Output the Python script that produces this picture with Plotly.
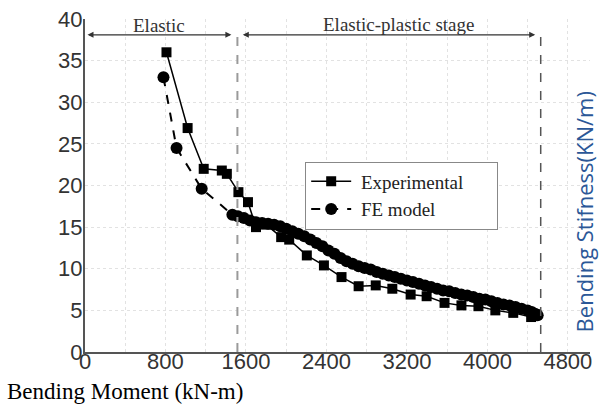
import plotly.graph_objects as go

# ---- data ----
exp_x = [810, 1020, 1180, 1360, 1410, 1525, 1620, 1700, 1800, 1950, 2030, 2205, 2375,
         2550, 2720, 2890, 3055, 3237, 3396, 3574, 3742, 3911, 4079, 4257, 4435]
exp_y = [36.0, 26.9, 22.0, 21.8, 21.4, 19.2, 18.0, 15.0, 15.3, 13.8, 13.5, 11.6, 10.4,
         9.0, 7.9, 8.0, 7.6, 6.9, 6.7, 5.9, 5.6, 5.5, 5.0, 4.7, 4.2]

fe_x = [780, 910, 1160, 1465, 1520, 1580, 1640, 1700, 1760, 1820, 1880, 1940, 2000, 2060,
        2120, 2180, 2240, 2300, 2360, 2420, 2480, 2540, 2600, 2660, 2720, 2780, 2840, 2900,
        2960, 3020, 3080, 3140, 3200, 3260, 3320, 3380, 3440, 3500, 3560, 3620, 3680, 3740,
        3800, 3860, 3920, 3980, 4040, 4100, 4160, 4220, 4280, 4340, 4400, 4440, 4470, 4490, 4500]
fe_y = [33.0, 24.5, 19.6, 16.5, 16.3, 16.1, 15.8, 15.6, 15.5, 15.4, 15.3, 15.1, 14.8, 14.5,
        14.2, 13.9, 13.5, 13.1, 12.7, 12.2, 11.8, 11.3, 10.9, 10.6, 10.3, 10.1, 9.9, 9.6,
        9.4, 9.2, 9.0, 8.8, 8.6, 8.4, 8.2, 8.0, 7.8, 7.6, 7.4, 7.3, 7.1, 6.9,
        6.8, 6.6, 6.4, 6.3, 6.1, 5.9, 5.7, 5.6, 5.4, 5.2, 5.0, 4.8, 4.6, 4.5, 4.4]

x_ticks = [0, 800, 1600, 2400, 3200, 4000, 4800]
y_ticks = [0, 5, 10, 15, 20, 25, 30, 35, 40]

stage_bounds = [1515, 4530]
serif = "Liberation Serif, Times New Roman, serif"
sans = "Liberation Sans, Arial, sans-serif"
nb = "\u00a0"

fig = go.Figure()
fig.add_trace(go.Scatter(
    x=exp_x, y=exp_y, mode="lines+markers", name=nb + "Experimental" + nb * 6,
    line=dict(color="black", width=1.5),
    marker=dict(symbol="square", size=10, color="black")))
fig.add_trace(go.Scatter(
    x=fe_x, y=fe_y, mode="lines+markers", name=nb + "FE model",
    line=dict(color="black", width=2, dash="dash"),
    marker=dict(symbol="circle", size=12, color="black")))

# stage separators
fig.add_shape(type="line", x0=stage_bounds[0], x1=stage_bounds[0], y0=0, y1=38.4,
              line=dict(color="#9a9a9a", width=2, dash="dash"))
fig.add_shape(type="line", x0=stage_bounds[1], x1=stage_bounds[1], y0=0, y1=38.8,
              line=dict(color="#555555", width=1.5, dash="dash"))

# stage arrows
for (a, b) in [(10, 1455), (1554, 4475)]:
    fig.add_annotation(x=b, y=38.1, ax=a, ay=38.1, xref="x", yref="y", axref="x", ayref="y",
                       text="", showarrow=True, arrowhead=2, arrowside="end+start",
                       arrowsize=1, arrowwidth=1.2, arrowcolor="#333333")

fig.add_annotation(x=733, y=39.2, xref="x", yref="y", text="Elastic", showarrow=False,
                   font=dict(family=serif, size=19, color="#333333"))
fig.add_annotation(x=3118, y=39.4, xref="x", yref="y", text="Elastic-plastic stage",
                   showarrow=False, font=dict(family=serif, size=19, color="#333333"))

fig.add_annotation(x=0.990, y=0.422, xref="paper", yref="paper", xanchor="center",
                   yanchor="middle", text="Bending Stifness(KN/m)",
                   textangle=-90, showarrow=False,
                   font=dict(family="Open Sans, Noto Sans, sans-serif", size=22, color="#2b5797"))
fig.add_annotation(x=-0.158, y=-0.12, xref="paper", yref="paper", xanchor="left",
                   yanchor="middle", text="Bending Moment (kN-m)", showarrow=False,
                   font=dict(family=serif, size=23, color="black"))

fig.update_layout(
    width=599, height=415,
    margin=dict(l=85, r=7, t=18, b=63),
    paper_bgcolor="white", plot_bgcolor="white",
    showlegend=True,
    legend=dict(x=0.436, y=0.572, xanchor="left", yanchor="top",
                bgcolor="white", bordercolor="#888888", borderwidth=1,
                font=dict(family=serif, size=19, color="#222222"),
                tracegroupgap=0, itemwidth=40),
    xaxis=dict(range=[0, 5020], tickvals=x_ticks, ticktext=[str(v) for v in x_ticks],
               showline=True, linecolor="#555555", linewidth=2,
               showgrid=True, gridcolor="#e2e2e2", griddash="dot", gridwidth=1,
               minor=dict(dtick=400, tick0=0, showgrid=True, gridcolor="#e2e2e2", griddash="dot"),
               zeroline=False, ticks="", ticklabelstandoff=-11,
               tickfont=dict(family=sans, size=22, color="#333333")),
    yaxis=dict(range=[0, 40], tickvals=y_ticks, ticktext=[str(v) for v in y_ticks],
               showline=True, linecolor="#555555", linewidth=2,
               showgrid=True, gridcolor="#e2e2e2", griddash="dot", gridwidth=1,
               zeroline=False, ticks="", ticklabelstandoff=-4,
               tickfont=dict(family=sans, size=22, color="#333333")),
)

fig.write_html("out.html")
